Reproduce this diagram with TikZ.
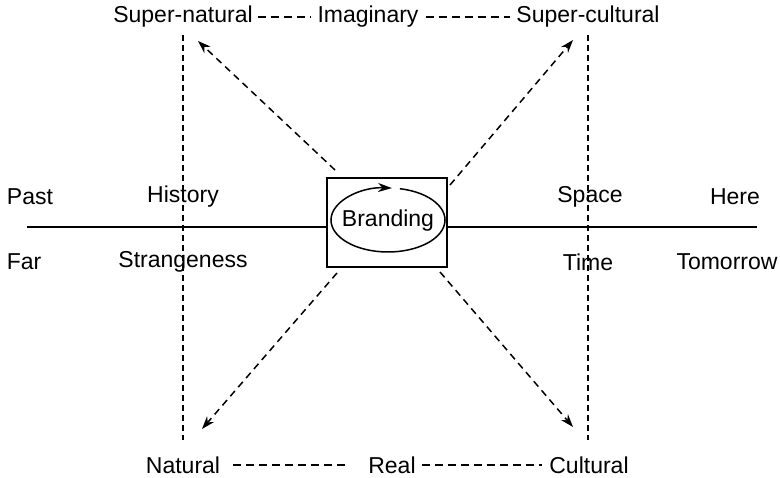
\documentclass[tikz,border=0pt]{standalone}
\usepackage{fontspec}
\setmainfont{Liberation Sans}
\usetikzlibrary{arrows.meta,calc}
\begin{document}
\begin{tikzpicture}[x=1pt,y=1pt,
  lbl/.style={inner sep=0pt, font=\fontsize{23}{26}\selectfont},
  vdashline/.style={draw, line width=1.7pt, dash pattern=on 6pt off 4pt},
  textdash/.style={line width=1.8pt, dash pattern=on 8pt off 5pt},
  axis/.style={line width=1.5pt},
  diag/.style={line width=1.5pt, dash pattern=on 7pt off 5pt, -{Stealth[length=13pt,width=9pt]}}]
\useasboundingbox[fill=white] (0,0) rectangle (780,478);
% top labels
\node[lbl] (sn) at (183,461) {Super-natural};
\node[lbl] (im) at (368,461) {Imaginary};
\node[lbl] (sc) at (588,461) {Super-cultural};
\draw[textdash] ([xshift=5pt]sn.east) -- ([xshift=-6pt]im.west);
\draw[textdash] ([xshift=7pt]im.east) -- ([xshift=-6pt]sc.west);
% bottom labels
\node[lbl] (na) at (183,13) {Natural};
\node[lbl] (re) at (392,13) {Real};
\node[lbl] (cu) at (589,13) {Cultural};
\draw[textdash] ([xshift=13pt]na.east) -- ([xshift=-20pt]re.west);
\draw[textdash] ([xshift=6pt]re.east) -- ([xshift=-7pt]cu.west);
% side labels
\node[lbl] (past) at (30,281) {Past};
\node[lbl] (hist) at (183,281) {History};
\node[lbl] (far) at (24,216) {Far};
\node[lbl] (str) at (183,216) {Strangeness};
\node[lbl] (spa) at (590,281) {Space};
\node[lbl] (here) at (735,281) {Here};
\node[lbl] (time) at (588,216) {Time};
\node[lbl] (tom) at (727,216) {Tomorrow};
% vertical dashed lines
\coordinate (vlt) at (183,443);
\coordinate (vlb) at (183,38);
\coordinate (vrt) at (588,443);
\coordinate (vrb) at (588,38);
\draw[vdashline] (vlt) -- (vlb);
\draw[vdashline] (vrt) -- (vrb);
% box
\node[draw, line width=1.6pt, minimum width=120pt, minimum height=89pt, inner sep=0pt] (box) at (387,255.5) {};
\coordinate (hl) at (27,251);
\coordinate (hr) at (757,251);
\draw[axis] (hl) -- (box.west |- hl);
\draw[axis] (box.east |- hr) -- (hr);
% ellipse with arrow
\node[lbl] (br) at (388,257) {Branding};
\draw[line width=1.5pt, -{Stealth[length=14pt,width=9pt]}] ($(388,258)+(78:57pt and 32pt)$) arc[start angle=78, end angle=-274, x radius=57, y radius=32];
% diagonal arrows
\coordinate (a1s) at (335,308); \coordinate (a1e) at (198,437);
\coordinate (a2s) at (450,293); \coordinate (a2e) at (573,438);
\coordinate (a3s) at (337,205); \coordinate (a3e) at (202,49);
\coordinate (a4s) at (440,206); \coordinate (a4e) at (573,51);
\draw[diag] (a1s) -- (a1e);
\draw[diag] (a2s) -- (a2e);
\draw[diag] (a3s) -- (a3e);
\draw[diag] (a4s) -- (a4e);
\end{tikzpicture}
\end{document}
